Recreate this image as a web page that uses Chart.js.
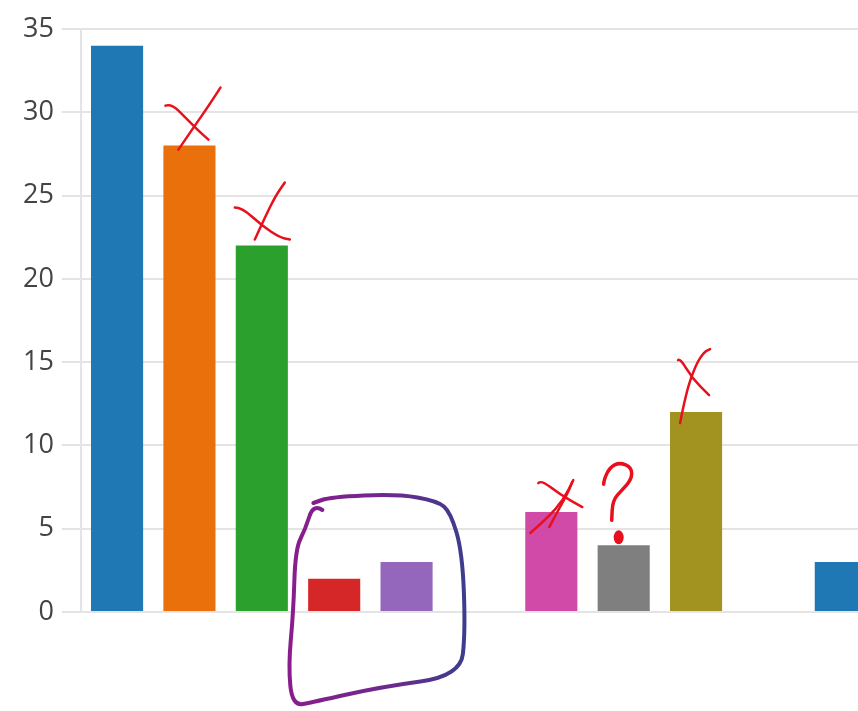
<!DOCTYPE html>
<html>
<head>
<meta charset="utf-8">
<script src="https://cdn.jsdelivr.net/npm/chart.js@4/dist/chart.umd.min.js"></script>
<style>
  html, body { margin: 0; padding: 0; overflow: hidden; background: #fff; }
  #wrap { width: 881px; height: 711px; position: relative; }
</style>
</head>
<body>
<div id="wrap"><canvas id="chart"></canvas></div>
<script>
// Categories (no labels are shown on the x axis)
const categories = ['1', '2', '3', '4', '5', '6', '7', '8', '9', '10', '11'];

// Bar values
const values = [34, 28, 22, 2, 3, 0, 6, 4, 12, 0, 3];

// One colour per bar (category10-like cycle)
const barColors = ['#1f77b4', '#e9700b', '#2ca02c', '#d62728', '#9467bd', '#8c564b',
  '#d24aa7', '#7f7f7f', '#a29320', '#17becf', '#1f77b4'];

// Y axis ticks
const yMin = 0;
const yMax = 35;
const yStep = 5;

// Hand-drawn marks, offsets relative to the top centre of a bar
const crossMarks = [
  { bar: 1, strokes: [[[-24, -40], [-18, -42], [-4, -28], [10, -14], [19, -6]], [[-11, 4], [4, -18], [18, -38], [31, -58]]] },
  { bar: 2, strokes: [[[-27, -38], [-20, -38], [0, -20], [18, -8], [28, -6]], [[-7, -6], [4, -30], [14, -50], [23, -63]]] },
  { bar: 6, strokes: [[[-13, -29], [-10, -32], [8, -18], [31, -5]], [[-21, 21], [-4, 6], [12, -12], [22, -32]], [[-2, 15], [8, -4], [16, -18], [21, -30]]] },
  { bar: 8, strokes: [[[-18, -52], [-16, -54], [-4, -34], [13, -17]], [[-16, 11], [-10, -20], [0, -48], [8, -60], [14, -63]]] }
];
const questionMark = { bar: 7, stroke: [[-20, -61], [-20, -65], [-14, -78], [-4, -83], [8, -78], [8, -66], [-2, -55], [-11, -45], [-12, -25]], dot: [-5, -8] };
const loopMark = { bars: [3, 4], stroke: [[-48, -101], [-57, -107], [-65, -82], [-75, -62], [-77, 1], [-82, 55], [-78, 95], [-57, 91], [10, 76], [90, 65], [95, 21], [92, -59], [80, -99], [67, -110], [27, -117], [-40, -114], [-57, -108]] };

// Draw a smooth freehand stroke through a list of points
function drawStroke(ctx, pts) {
  ctx.beginPath();
  ctx.moveTo(pts[0][0], pts[0][1]);
  for (let i = 1; i < pts.length - 1; i++) {
    const mx = (pts[i][0] + pts[i + 1][0]) / 2;
    const my = (pts[i][1] + pts[i + 1][1]) / 2;
    ctx.quadraticCurveTo(pts[i][0], pts[i][1], mx, my);
  }
  const last = pts[pts.length - 1];
  ctx.lineTo(last[0], last[1]);
  ctx.stroke();
}

const scribblePlugin = {
  id: 'scribbles',
  afterDraw(chart) {
    const ctx = chart.ctx;
    const bars = chart.getDatasetMeta(0).data;
    ctx.save();
    ctx.lineCap = 'round';
    ctx.lineJoin = 'round';

    // red crosses
    ctx.strokeStyle = '#e8101c';
    ctx.lineWidth = 2.5;
    crossMarks.forEach(m => {
      const b = bars[m.bar];
      m.strokes.forEach(s => drawStroke(ctx, s.map(p => [b.x + p[0], b.y + p[1]])));
    });

    // question mark
    const q = bars[questionMark.bar];
    ctx.lineWidth = 3.5;
    drawStroke(ctx, questionMark.stroke.map(p => [q.x + p[0], q.y + p[1]]));
    ctx.fillStyle = '#e8101c';
    ctx.beginPath();
    ctx.ellipse(q.x + questionMark.dot[0], q.y + questionMark.dot[1], 5, 7, 0, 0, Math.PI * 2);
    ctx.fill();

    // purple loop around two bars
    const b1 = bars[loopMark.bars[0]];
    const b2 = bars[loopMark.bars[1]];
    const cx = (b1.x + b2.x) / 2;
    const cy = b1.base;
    const grad = ctx.createLinearGradient(cx - 80, 0, cx + 95, 0);
    grad.addColorStop(0, '#8a1d8c');
    grad.addColorStop(0.6, '#6a2a8e');
    grad.addColorStop(1, '#3c3e8c');
    ctx.strokeStyle = grad;
    ctx.lineWidth = 4;
    drawStroke(ctx, loopMark.stroke.map(p => [cx + p[0], cy + p[1]]));
    ctx.restore();
  }
};

const ctx = document.getElementById('chart').getContext('2d');

const barChart = new Chart(ctx, {
  type: 'bar',
  data: {
    labels: categories,
    datasets: [{
      data: values,
      backgroundColor: barColors,
      borderWidth: 0,
      barPercentage: 0.8,
      categoryPercentage: 0.9
    }]
  },
  options: {
    responsive: true,
    maintainAspectRatio: false,
    animation: false,
    layout: {
      padding: { left: 15, top: 29, right: 4, bottom: 99 }
    },
    scales: {
      x: {
        display: false
      },
      y: {
        min: yMin,
        max: yMax,
        ticks: {
          stepSize: yStep,
          padding: 8,
          color: '#444',
          font: { family: 'Open Sans', size: 27 }
        },
        grid: {
          color: '#e4e4e4',
          lineWidth: 2,
          tickLength: 19
        },
        border: {
          display: true,
          color: '#e4e4e4',
          width: 2
        }
      }
    },
    plugins: {
      legend: { display: false },
      tooltip: { enabled: false }
    }
  },
  plugins: [scribblePlugin]
});
</script>
</body>
</html>
